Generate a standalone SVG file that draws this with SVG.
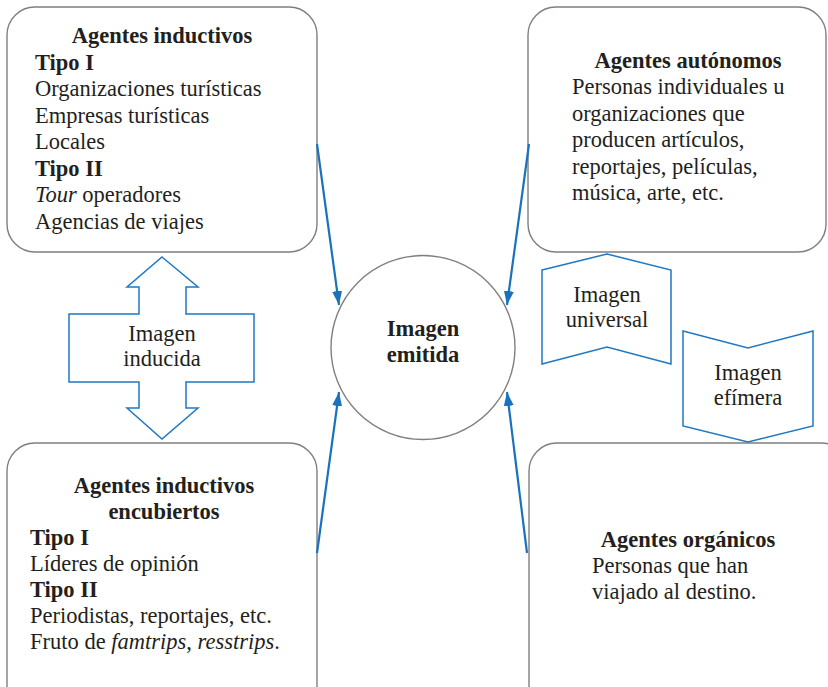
<svg xmlns="http://www.w3.org/2000/svg" width="828" height="687" viewBox="0 0 828 687">
<style>
.box{fill:#fff;stroke:#7f7f7f;stroke-width:1.4}
.shape{fill:#fff;stroke:#1f78c1;stroke-width:1.5}
.conn{stroke:#1a72bd;stroke-width:2.2;fill:none}
text{font-family:"Liberation Serif","Times New Roman",serif;font-size:22.5px;fill:#231f20}
.b{font-weight:bold}
.c{text-anchor:middle}
</style>
<defs>
<marker id="ah" markerUnits="userSpaceOnUse" viewBox="0 0 14 10" refX="14" refY="5" markerWidth="14" markerHeight="10" orient="auto">
<path d="M0,0 L14,5 L0,10 z" fill="#1a72bd"/>
</marker>
</defs>
<rect width="828" height="687" fill="#fff"/>

<g id="inductivos">
<rect class="box" x="7" y="7" width="310" height="245" rx="28"/>
<text class="b c" x="162" y="43">Agentes inductivos</text>
<text class="b" x="35" y="69.6">Tipo I</text>
<text x="35" y="96.1">Organizaciones turísticas</text>
<text x="35" y="122.7">Empresas turísticas</text>
<text x="35" y="149.3">Locales</text>
<text class="b" x="35" y="175.9">Tipo II</text>
<text x="35" y="202.4"><tspan font-style="italic">Tour</tspan> operadores</text>
<text x="35" y="229">Agencias de viajes</text>
</g>

<g id="autonomos">
<rect class="box" x="528" y="7" width="298" height="245" rx="28"/>
<text class="b c" x="688" y="68">Agentes autónomos</text>
<text x="572" y="94.4">Personas individuales u</text>
<text x="572" y="120.8">organizaciones que</text>
<text x="572" y="147.2">producen artículos,</text>
<text x="572" y="173.6">reportajes, películas,</text>
<text x="572" y="200">música, arte, etc.</text>
</g>

<g id="encubiertos">
<rect class="box" x="7" y="443" width="310" height="270" rx="28"/>
<text class="b c" x="164" y="493">Agentes inductivos</text>
<text class="b c" x="164" y="519">encubiertos</text>
<text class="b" x="30" y="545">Tipo I</text>
<text x="30" y="571">Líderes de opinión</text>
<text class="b" x="30" y="597">Tipo II</text>
<text x="30" y="623">Periodistas, reportajes, etc.</text>
<text x="30" y="649">Fruto de <tspan font-style="italic">famtrips</tspan>, <tspan font-style="italic">resstrips</tspan>.</text>
</g>

<g id="organicos">
<rect class="box" x="529" y="443" width="320" height="270" rx="28"/>
<text class="b c" x="688" y="547">Agentes orgánicos</text>
<text x="592" y="573">Personas que han</text>
<text x="592" y="599">viajado al destino.</text>
</g>

<g id="emitida">
<circle class="box" cx="423" cy="347.5" r="92"/>
<text class="b c" x="423" y="336">Imagen</text>
<text class="b c" x="423" y="362">emitida</text>
</g>

<g id="inducida">
<path class="shape" d="M162,257 L198,287 L186,287 L186,314 L254,314 L254,382 L186,382 L186,408 L198,408 L162,439 L127,408 L139,408 L139,382 L69,382 L69,314 L139,314 L139,287 L127,287 Z"/>
<text class="c" x="162" y="341">Imagen</text>
<text class="c" x="162" y="366">inducida</text>
</g>

<g id="universal">
<path class="shape" d="M542,270 L607,254 L671,270 L671,364 L607,347 L542,364 Z"/>
<text class="c" x="607" y="302">Imagen</text>
<text class="c" x="607" y="327">universal</text>
</g>

<g id="efimera">
<path class="shape" d="M683,331 L748,348 L813,331 L813,426 L748,442 L683,426 Z"/>
<text class="c" x="748" y="380">Imagen</text>
<text class="c" x="748" y="405">efímera</text>
</g>

<g id="connectors">
<line class="conn" x1="317" y1="144" x2="339" y2="305" marker-end="url(#ah)"/>
<line class="conn" x1="529" y1="144" x2="507" y2="305" marker-end="url(#ah)"/>
<line class="conn" x1="317" y1="553" x2="339" y2="392" marker-end="url(#ah)"/>
<line class="conn" x1="527" y1="553" x2="507" y2="392" marker-end="url(#ah)"/>
</g>
</svg>
